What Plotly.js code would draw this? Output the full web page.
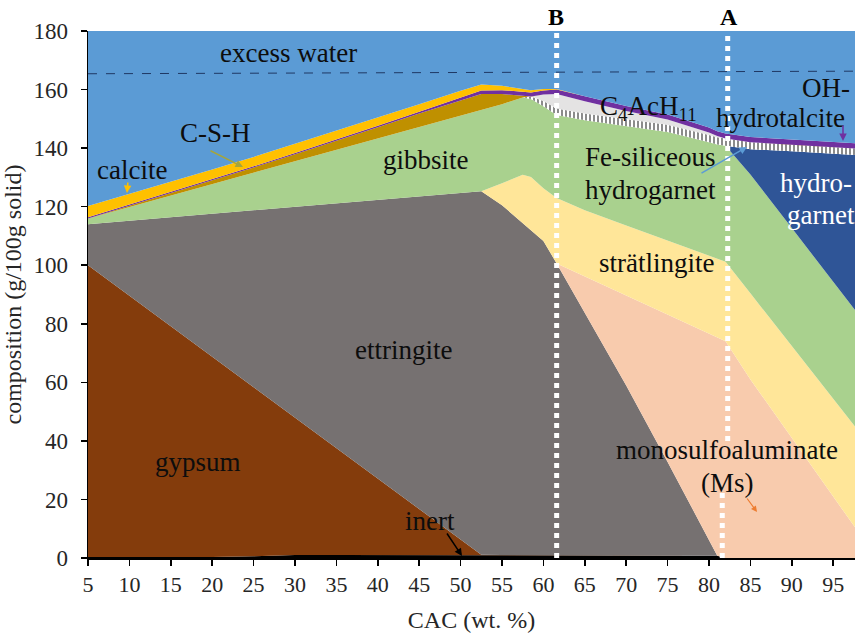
<!DOCTYPE html>
<html>
<head>
<meta charset="utf-8">
<script src="https://cdn.plot.ly/plotly-3.0.1.min.js"></script>
<style>
html,body{margin:0;padding:0;background:#fff;}
#chart{width:855px;height:636px;}
</style>
</head>
<body>
<div id="chart"></div>
<script>
// CAC content (wt. %)
const cac = [5, 10, 15, 20, 25, 30, 35, 40, 45, 50, 52.5, 55, 57.5, 58.5, 60, 61.6, 65, 70, 75, 80, 81, 82, 85, 90, 95, 100];

// phase amounts (g/100g solid), stacked bottom to top
const inert        = [0.3, 0.3, 0.3, 0.3, 0.6, 1.0, 1.0, 1.0, 1.0, 1.0, 1.0, 1.0, 1.0, 1.0, 1.0, 1.0, 1.0, 1.0, 1.0, 1.0, 0.8, 0, 0, 0, 0, 0];
const gypsum       = [99.7, 89.3, 78.9, 68.4, 57.7, 46.9, 36.5, 26.1, 15.7, 5.3, 0.1, 0, 0, 0, 0, 0, 0, 0, 0, 0, 0, 0, 0, 0, 0, 0];
const ettringite   = [14, 25.6, 37.2, 48.9, 60.5, 72.0, 83.6, 95.2, 106.8, 118.4, 124.2, 119.5, 113.4, 111.0, 107.3, 99.6, 82.7, 57.9, 31.8, 5.3, 0, 0, 0, 0, 0, 0];
const monosulfo    = [0, 0, 0, 0, 0, 0, 0, 0, 0, 0, 0, 0, 0, 0, 0, 0, 12.5, 30.7, 50.3, 70.3, 74.5, 74, 61, 41, 21, 1];
const stratlingite = [0, 0, 0, 0, 0, 0, 0, 0, 0, 0, 0, 7.5, 16.5, 18.1, 18.0, 22.4, 22.6, 24.0, 25.4, 26.8, 27.0, 27.2, 29.4, 31.4, 33.4, 35.4];
const gibbsite     = [2.0, 4.7, 7.4, 10.1, 12.8, 15.6, 18.3, 21.0, 23.7, 26.4, 27.7, 27.0, 26.4, 26.7, 28.0, 28.3, 30.7, 33.9, 37.0, 38.6, 38.9, 39.6, 40.6, 40.3, 40.1, 39.6];
const hydrogarnet  = [0, 0, 0, 0, 0, 0, 0, 0, 0, 0, 0, 0, 0, 0, 0, 0, 0, 0, 0, 0, 0, 0, 8.6, 26.2, 43.6, 61.3];
const feSiHydrogarnet = [0, 0, 0, 0, 0, 0, 0, 0, 0, 0, 0, 0, 0, 0.8, 1.8, 2.2, 2.3, 2.4, 2.5, 2.5, 2.5, 2.5, 2.4, 2.3, 2.3, 2.2];
const c4acH11      = [0, 0, 0, 0, 0, 0, 0, 0, 0, 0, 0, 0, 0, 0, 2.2, 5.0, 4.2, 2.8, 1.8, 0.8, 0.4, 0, 0, 0, 0, 0];
const csh          = [0, 0.4, 0.8, 1.3, 1.8, 2.4, 3.0, 3.8, 4.6, 5.3, 5.5, 3.5, 0.5, 0, 0, 0, 0, 0, 0, 0, 0, 0, 0, 0, 0, 0];
const hydrotalcite = [0.4, 0.4, 0.4, 0.4, 0.4, 0.45, 0.5, 0.5, 0.6, 1.0, 1.2, 1.3, 1.4, 1.4, 1.4, 1.5, 1.7, 1.7, 1.7, 1.7, 1.7, 1.7, 1.8, 1.8, 1.8, 1.8];
const calcite      = [3.8, 3.6, 3.4, 3.3, 3.2, 3.1, 3.0, 2.9, 2.6, 2.2, 2.0, 1.5, 1.0, 0.8, 0.5, 0.2, 0, 0, 0, 0, 0, 0, 0, 0, 0, 0];
const excessWater  = [70, 66, 62, 57, 53, 49, 44, 40, 35, 30, 28, 29, 30, 30, 30, 30, 32, 36, 39, 43, 44, 45, 46, 47, 48, 49];

// dashed reference line (total water)
const waterLineX = [5, 100];
const waterLineY = [165.4, 166.3];

// axis ticks
const xTicks = [5, 10, 15, 20, 25, 30, 35, 40, 45, 50, 55, 60, 65, 70, 75, 80, 85, 90, 95];
const yTicks = [0, 20, 40, 60, 80, 100, 120, 140, 160, 180];

const layers = [
  {name: 'inert', y: inert, color: '#000000'},
  {name: 'gypsum', y: gypsum, color: '#843C0C'},
  {name: 'ettringite', y: ettringite, color: '#767171'},
  {name: 'monosulfoaluminate', y: monosulfo, color: '#F8CBAD'},
  {name: 'strätlingite', y: stratlingite, color: '#FFE699'},
  {name: 'gibbsite', y: gibbsite, color: '#A9D18E'},
  {name: 'hydrogarnet', y: hydrogarnet, color: '#2F5597'},
  {name: 'Fe-siliceous hydrogarnet', y: feSiHydrogarnet, color: '#FFFFFF',
   pattern: {shape: '|', bgcolor: '#FFFFFF', fgcolor: '#6E6E6E', size: 4, solidity: 0.4}},
  {name: 'C4AcH11', y: c4acH11, color: '#E4E3E3'},
  {name: 'C-S-H', y: csh, color: '#BF9000'},
  {name: 'OH-hydrotalcite', y: hydrotalcite, color: '#7030A0'},
  {name: 'calcite', y: calcite, color: '#FFC000'},
  {name: 'excess water', y: excessWater, color: '#5B9BD5'}
];

const traces = layers.map(l => {
  const t = {
    type: 'scatter', mode: 'lines', x: cac, y: l.y, name: l.name,
    stackgroup: 'one', line: {width: 0, color: l.color}, fillcolor: l.color,
    hoverinfo: 'skip', showlegend: false
  };
  if (l.pattern) t.fillpattern = l.pattern;
  return t;
});
traces.push({
  type: 'scatter', mode: 'lines', x: waterLineX, y: waterLineY,
  line: {color: '#1F3864', width: 1, dash: 'dash'}, hoverinfo: 'skip', showlegend: false
});

// plot area in pixels: left 88, right 855, top 31, bottom 558
const L = 88, R = 855, T = 31, B = 558;
const px = v => (v - L) / (R - L);
const py = v => (B - v) / (B - T);
const F = 'Liberation Serif, Times New Roman, serif';
const txtCol = '#0D0D0D';

function label(text, x, y, opts) {
  opts = opts || {};
  return Object.assign({
    text: text, xref: 'paper', yref: 'paper', x: px(x), y: py(y),
    xanchor: 'center', yanchor: 'middle', showarrow: false,
    font: {family: F, size: opts.size || 27, color: opts.color || txtCol}
  }, opts.extra || {});
}
function arrow(tipX, tipY, tailX, tailY, color, w) {
  return {
    text: '', xref: 'paper', yref: 'paper', x: px(tipX), y: py(tipY),
    ax: tailX - tipX, ay: tailY - tipY, showarrow: true,
    arrowhead: 2, arrowsize: 1, arrowwidth: w || 1.5, arrowcolor: color
  };
}

const annotations = [
  label('excess water', 288, 53),
  label('C-S-H', 215, 133),
  label('calcite', 132, 170),
  label('gibbsite', 426, 160),
  label('<b>B</b>', 556, 17, {size: 24, color: '#000'}),
  label('<b>A</b>', 729, 17, {size: 24, color: '#000'}),
  label('C<sub>4</sub>AcH<sub>11</sub>', 648, 108),
  label('OH-', 826, 88),
  label('hydrotalcite', 780, 118),
  label('Fe-siliceous', 650, 157),
  label('hydrogarnet', 650, 190),
  label('hydro-', 816, 183, {color: '#FFFFFF'}),
  label('garnet', 821, 215, {color: '#FFFFFF'}),
  label('strätlingite', 656, 263),
  label('ettringite', 403, 350),
  label('gypsum', 198, 462),
  label('inert', 430, 521),
  label('monosulfoaluminate', 727, 450),
  label('(Ms)', 727, 483),
  arrow(127, 193, 128, 181, '#FFC000', 1.5),
  arrow(243, 167, 209, 150, '#A5A53C', 1.5),
  arrow(747, 147, 700, 174, '#5B9BD5', 1.5),
  arrow(843, 141, 843, 124, '#7030A0', 1.5),
  arrow(462, 556, 446, 532, '#000000', 1.5),
  arrow(757, 512, 746, 497, '#ED7D31', 1.2)
];

const dotLine = (x, y0, y1) => ({
  type: 'line', xref: 'x', yref: 'y', x0: x, x1: x, y0: y0, y1: y1,
  line: {color: '#FFFFFF', width: 5, dash: 'dot'}, layer: 'above'
});
const shapes = [
  dotLine(61.6, 0, 180),
  dotLine(82.26, 40, 180),
  dotLine(81.6, 0, 23)
];

const layout = {
  width: 855, height: 636,
  margin: {l: L, r: 0, t: T, b: 636 - B, pad: 0},
  paper_bgcolor: '#FFFFFF', plot_bgcolor: '#FFFFFF',
  font: {family: F, color: txtCol},
  showlegend: false,
  xaxis: {
    range: [5, 5 + (R - L) / 8.28], tickvals: xTicks, ticktext: xTicks.map(String),
    ticks: 'outside', ticklen: 6, tickwidth: 1.5, tickcolor: '#000',
    showline: true, linecolor: '#000', linewidth: 1.5, showgrid: false, zeroline: false,
    tickfont: {family: F, size: 22, color: '#262626'},
    title: {text: 'CAC (wt. %)', font: {family: F, size: 24, color: '#262626'}, standoff: 15}
  },
  yaxis: {
    range: [0, 180], tickvals: yTicks,
    ticks: 'outside', ticklen: 6, tickwidth: 1.5, tickcolor: '#000',
    showline: true, linecolor: '#000', linewidth: 1.5, showgrid: false, zeroline: false,
    tickfont: {family: F, size: 23, color: '#262626'}, ticklabelstandoff: 8,
    title: {text: 'composition (g/100g solid)', font: {family: F, size: 24, color: '#262626'}, standoff: 6}
  },
  annotations: annotations,
  shapes: shapes
};

Plotly.newPlot('chart', traces, layout, {displayModeBar: false, staticPlot: true});
</script>
</body>
</html>
